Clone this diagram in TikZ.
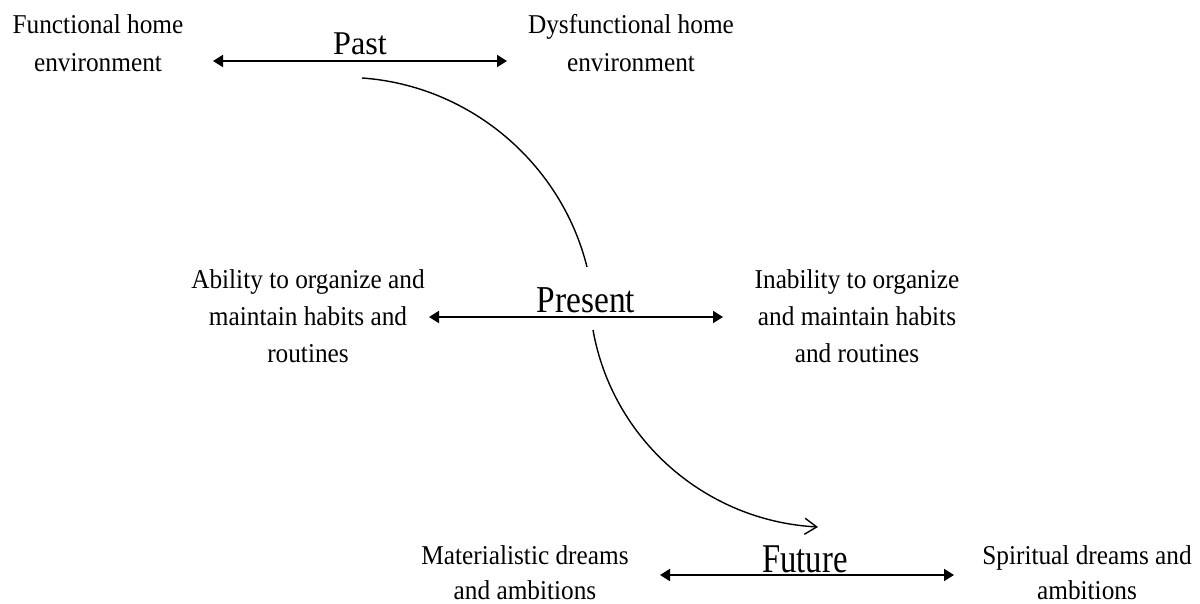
\documentclass[tikz,border=0pt]{standalone}
\usepackage{fontspec}
\setmainfont{Liberation Serif}[FakeStretch=0.93]
\newfontfamily\pastf{Liberation Serif}[FakeStretch=0.97]
\newfontfamily\presf{Liberation Serif}[FakeStretch=0.88]
\newfontfamily\futf{Liberation Serif}[FakeStretch=0.8]
\usetikzlibrary{arrows.meta}
\tikzset{
  lbl/.style={align=center, inner sep=0pt, font=\fontsize{13.6}{18.5}\selectfont},
  timelbl/.style={anchor=base, inner sep=0pt},
  dbl/.style={{Triangle[length=5pt,width=6pt]}-{Triangle[length=5pt,width=6pt]}, line width=0.9pt},
  flow/.style={line width=0.7pt},
  flowarrow/.style={flow, -{Straight Barb[length=6pt,width=8pt,line width=0.7pt]}}
}
\begin{document}
\begin{tikzpicture}[x=0.5pt,y=-0.5pt]
\useasboundingbox (0,0) rectangle (1200,604);
% Past
\node[lbl, font=\fontsize{13.6}{19}\selectfont] (func) at (98,43) {Functional home\\environment};
\node[lbl, font=\fontsize{13.6}{19}\selectfont] (dysf) at (631,43) {Dysfunctional home\\environment};
\node[timelbl, font=\pastf\fontsize{16.6}{20}\selectfont] (past) at (360,55) {Past};
\coordinate (pl) at (213,61);
\coordinate (pr) at (507,61);
\draw[dbl] (pl) -- (pr);
% Present
\node[lbl] (abil) at (308,316) {Ability to organize and\\maintain habits and\\routines};
\node[lbl] (inab) at (857,316) {Inability to organize\\and maintain habits\\and routines};
\node[timelbl, font=\presf\fontsize{19}{22}\selectfont] (pres) at (586,313) {Present};
\coordinate (ql) at (429,317);
\coordinate (qr) at (723,317);
\draw[dbl] (ql) -- (qr);
% Future
\node[lbl, font=\fontsize{13.6}{17.5}\selectfont] (mat) at (525,573) {Materialistic dreams\\and ambitions};
\node[lbl, font=\fontsize{13.6}{17.5}\selectfont] (spir) at (1087,573) {Spiritual dreams and\\ambitions};
\node[timelbl, font=\futf\fontsize{20.4}{24}\selectfont] (fut) at (805,572) {Future};
\coordinate (fl) at (660,575);
\coordinate (fr) at (954,575);
\draw[dbl] (fl) -- (fr);
% curves
\coordinate (c1s) at (362,78);
\coordinate (c1e) at (587,267);
\coordinate (c2s) at (593,330);
\coordinate (c2e) at (818,527);
\draw[flow] (c1s) .. controls (469.4,85.5) and (561,162.6) .. (c1e);
\draw[flowarrow] (c2s) .. controls (612.5,440) and (706,521) .. (c2e);
\end{tikzpicture}
\end{document}
